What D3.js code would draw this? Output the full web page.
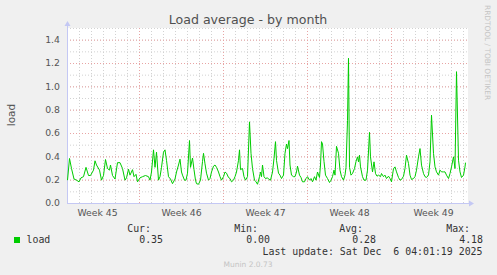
<!DOCTYPE html>
<html>
<head>
<meta charset="utf-8">
<script src="https://cdn.jsdelivr.net/npm/d3@7"></script>
<style>
  body { margin: 0; background: #f0f0f0; }
  svg { display: block; }
  text { font-family: "DejaVu Sans", sans-serif; }
  .mono { font-family: "DejaVu Sans Mono", monospace; }
</style>
</head>
<body>
<script>
// hours after Mon 3 Nov 2025 00:00 UTC
var hours = [0,4,8,13,18,23,27,32,37,42,46,52,55,58,64,68,72,76,80,84,86,90,95,100,105,110,115,118,122,125,
  130,133,137,140,145,150,156,162,165,168,172,175,178,182,185,188,192,195,198,202,206,210,215,218,222,225,228,230,234,237,
  240,244,246,250,253,256,258,262,266,270,272,275,278,282,285,288,292,295,298,302,305,308,312,315,318,322,325,328,332,335,
  338,342,344,346,350,353,356,360,364,367,370,374,377,380,384,386,388,390,393,396,400,403,406,410,413,416,418,422,425,428,
  432,435,438,440,443,445,448,452,455,458,460,464,467,470,474,477,480,484,487,490,494,497,500,504,506,508,510,513,516,520,
  524,527,530,533,535,538,542,545,548,552,555,557,560,562,564,567,570,574,577,580,582,584,586,590,593,597,600,604,606,610,
  613,616,619,622,626,628,632,635,638,642,645,648,652,655,658,662,665,668,672,675,678,682,685,688,692,695,698,702,705,708,
  712,715,718,722,725,728,732,735,738,742,745,748,752,755,758,762,765,768,772,775,778,782,785,788,792,795,796];

var load = [0.20,0.386,0.30,0.21,0.20,0.186,0.22,0.23,0.31,0.24,0.24,0.286,0.366,0.33,0.286,0.20,0.24,0.377,0.30,0.286,
  0.33,0.24,0.21,0.35,0.35,0.30,0.20,0.22,0.294,0.243,0.29,0.23,0.25,0.186,0.22,0.23,0.24,0.23,0.20,0.27,
  0.46,0.31,0.44,0.20,0.23,0.31,0.44,0.46,0.37,0.23,0.21,0.17,0.21,0.27,0.33,0.38,0.27,0.243,0.20,0.20,
  0.26,0.54,0.31,0.39,0.29,0.20,0.17,0.165,0.20,0.36,0.43,0.34,0.26,0.20,0.214,0.27,0.32,0.33,0.31,0.27,
  0.23,0.20,0.23,0.27,0.26,0.223,0.214,0.186,0.20,0.23,0.27,0.37,0.46,0.29,0.30,0.23,0.20,0.23,0.70,0.43,
  0.30,0.20,0.186,0.165,0.23,0.27,0.23,0.33,0.23,0.214,0.22,0.206,0.20,0.27,0.386,0.53,0.37,0.26,0.243,0.214,
  0.243,0.43,0.51,0.47,0.54,0.33,0.243,0.23,0.23,0.27,0.32,0.243,0.223,0.186,0.186,0.214,0.23,0.20,0.214,0.186,
  0.23,0.20,0.27,0.223,0.33,0.53,0.51,0.36,0.243,0.214,0.18,0.20,0.23,0.286,0.243,0.49,0.43,0.286,0.23,0.20,
  0.243,0.31,0.71,1.245,0.31,0.243,0.257,0.30,0.36,0.40,0.357,0.414,0.314,0.23,0.20,0.20,0.286,0.61,0.40,0.271,
  0.357,0.257,0.234,0.243,0.23,0.257,0.23,0.243,0.214,0.234,0.214,0.186,0.30,0.314,0.271,0.223,0.20,0.206,0.234,0.30,
  0.414,0.343,0.243,0.206,0.214,0.23,0.286,0.40,0.471,0.329,0.257,0.23,0.223,0.243,0.357,0.757,0.43,0.314,0.271,0.243,
  0.286,0.271,0.271,0.271,0.243,0.214,0.257,0.314,0.40,0.30,1.13,0.371,0.271,0.223,0.243,0.314,0.35];

var yTicks = [0.0, 0.2, 0.4, 0.6, 0.8, 1.0, 1.2, 1.4];
var legendHeads = ["Cur:", "Min:", "Avg:", "Max:"];
var legendValues = ["0.35", "0.00", "0.28", "4.18"];
var lastUpdate = "Last update: Sat Dec  6 04:01:19 2025";

var W = 497, H = 275;
var plotLeft = 67, plotTop = 28, plotWidth = 400, plotHeight = 175;
var t0 = new Date(Date.UTC(2025, 10, 3));
var t1 = d3.utcHour.offset(t0, 800);

var svg = d3.select("body").append("svg")
    .attr("width", W)
    .attr("height", H);

var xScale = d3.scaleUtc().domain([t0, t1]).range([plotLeft, plotLeft + plotWidth]);
var yScale = d3.scaleLinear().domain([0, 1.5]).range([plotTop + plotHeight, plotTop]);

// plot canvas
svg.append("rect")
    .attr("x", plotLeft).attr("y", plotTop)
    .attr("width", plotWidth + 1).attr("height", plotHeight + 1)
    .attr("fill", "#fff");

// minor grid
svg.append("g").attr("transform", "translate(" + plotLeft + ",0)")
    .call(d3.axisLeft(yScale).tickValues(d3.range(1, 16).map(function(d){ return d / 10; }))
          .tickSize(-plotWidth).tickFormat(""))
    .call(function(g){ g.select(".domain").remove(); })
    .selectAll("line").attr("stroke", "#d2d2d2").attr("stroke-dasharray", "1,2");

svg.append("g").attr("transform", "translate(0," + plotTop + ")")
    .call(d3.axisTop(xScale).ticks(d3.utcDay.every(1)).tickSize(-plotHeight).tickFormat(""))
    .call(function(g){ g.select(".domain").remove(); })
    .selectAll("line").attr("stroke", "#d2d2d2").attr("stroke-dasharray", "1,2");

// major grid
svg.append("g").attr("transform", "translate(" + plotLeft + ",0)")
    .call(d3.axisLeft(yScale).tickValues(yTicks.slice(1)).tickSize(-plotWidth).tickFormat(""))
    .call(function(g){ g.select(".domain").remove(); })
    .selectAll("line").attr("stroke", "#e8a4a4").attr("stroke-dasharray", "1,2");

svg.append("g").attr("transform", "translate(0," + plotTop + ")")
    .call(d3.axisTop(xScale).ticks(d3.utcSunday.every(1)).tickSize(-plotHeight).tickFormat(""))
    .call(function(g){ g.select(".domain").remove(); })
    .selectAll("line").attr("stroke", "#e8a4a4").attr("stroke-dasharray", "1,2");

// axes with arrows
var axisColor = "#c4c8f4";
var yBase = plotTop + plotHeight;
svg.append("line")
    .attr("x1", plotLeft + 0.5).attr("x2", plotLeft + 0.5)
    .attr("y1", yBase + 0.5).attr("y2", plotTop - 4)
    .attr("stroke", axisColor);
svg.append("path")
    .attr("d", "M" + (plotLeft - 2.5) + "," + (plotTop - 2) + "L" + (plotLeft + 3.5) + "," + (plotTop - 2) + "L" + (plotLeft + 0.5) + "," + (plotTop - 7) + "Z")
    .attr("fill", axisColor);
svg.append("line")
    .attr("x1", plotLeft).attr("x2", plotLeft + plotWidth + 4)
    .attr("y1", yBase + 0.5).attr("y2", yBase + 0.5)
    .attr("stroke", axisColor);
svg.append("path")
    .attr("d", "M" + (plotLeft + plotWidth + 2) + "," + (yBase - 2.5) + "L" + (plotLeft + plotWidth + 2) + "," + (yBase + 3.5) + "L" + (plotLeft + plotWidth + 7) + "," + (yBase + 0.5) + "Z")
    .attr("fill", axisColor);

// y tick labels
svg.append("g").attr("transform", "translate(" + plotLeft + ",0)")
    .call(d3.axisLeft(yScale).tickValues(yTicks).tickSize(0).tickPadding(7).tickFormat(d3.format(".1f")))
    .call(function(g){ g.select(".domain").remove(); })
    .selectAll("text")
    .attr("fill", "#555")
    .style("font-size", "9.3px")
    .style("font-family", "DejaVu Sans");

// week labels, centred on each Sunday..Sunday interval
var weekMids = d3.utcSunday.range(d3.utcDay.offset(t0, -7), t1)
    .map(function(d){ return d3.utcHour.offset(d, 84); })
    .filter(function(d){ return d > t0 && d < t1; });

svg.append("g").attr("transform", "translate(0," + yBase + ")")
    .call(d3.axisBottom(xScale).tickValues(weekMids).tickSize(0).tickPadding(6)
          .tickFormat(function(d){ return "Week " + d3.utcFormat("%V")(d); }))
    .call(function(g){ g.select(".domain").remove(); })
    .selectAll("text")
    .attr("fill", "#555")
    .style("font-size", "9.3px")
    .style("font-family", "DejaVu Sans");

// load line
var series = hours.map(function(h, i){ return { t: d3.utcHour.offset(t0, h), v: load[i] }; });
var line = d3.line()
    .x(function(d){ return xScale(d.t) + 0.5; })
    .y(function(d){ return yScale(d.v) + 0.5; });

svg.append("path")
    .datum(series)
    .attr("d", line)
    .attr("fill", "none")
    .attr("stroke", "#00cc00")
    .attr("stroke-width", 1);

// title and labels
svg.append("text")
    .attr("x", 248).attr("y", 24)
    .attr("text-anchor", "middle")
    .attr("fill", "#505050")
    .style("font-size", "12.6px")
    .text("Load average - by month");

svg.append("text")
    .attr("transform", "translate(15,115) rotate(-90)")
    .attr("text-anchor", "middle")
    .attr("fill", "#555")
    .style("font-size", "10.5px")
    .text("load");

svg.append("text")
    .attr("transform", "translate(484.5,5) rotate(90)")
    .attr("fill", "#c4c4c4")
    .style("font-size", "7.4px")
    .text("RRDTOOL / TOBI OETIKER");

// legend
var headEnds = [151, 258, 363, 470];
var valueEnds = [163, 270, 376, 483];

svg.selectAll(".head").data(legendHeads).enter().append("text")
    .attr("class", "mono")
    .attr("x", function(d, i){ return headEnds[i]; })
    .attr("y", 231.5)
    .attr("text-anchor", "end")
    .attr("fill", "#333")
    .style("font-size", "9.9px")
    .text(function(d){ return d; });

svg.append("rect")
    .attr("x", 14).attr("y", 237)
    .attr("width", 6).attr("height", 6)
    .attr("fill", "#00cc00");

svg.append("text")
    .attr("class", "mono")
    .attr("x", 26.5).attr("y", 243.3)
    .attr("fill", "#333")
    .style("font-size", "9.9px")
    .text("load");

svg.selectAll(".val").data(legendValues).enter().append("text")
    .attr("class", "mono")
    .attr("x", function(d, i){ return valueEnds[i]; })
    .attr("y", 243.3)
    .attr("text-anchor", "end")
    .attr("fill", "#333")
    .style("font-size", "9.9px")
    .text(function(d){ return d; });

svg.append("text")
    .attr("class", "mono")
    .attr("x", 482.5).attr("y", 255)
    .attr("text-anchor", "end")
    .attr("fill", "#333")
    .style("white-space", "pre")
    .style("font-size", "9.9px")
    .text(lastUpdate);

svg.append("text")
    .attr("x", 248).attr("y", 267)
    .attr("text-anchor", "middle")
    .attr("fill", "#c4c4c4")
    .style("font-size", "7.5px")
    .text("Munin 2.0.73");
</script>
</body>
</html>
